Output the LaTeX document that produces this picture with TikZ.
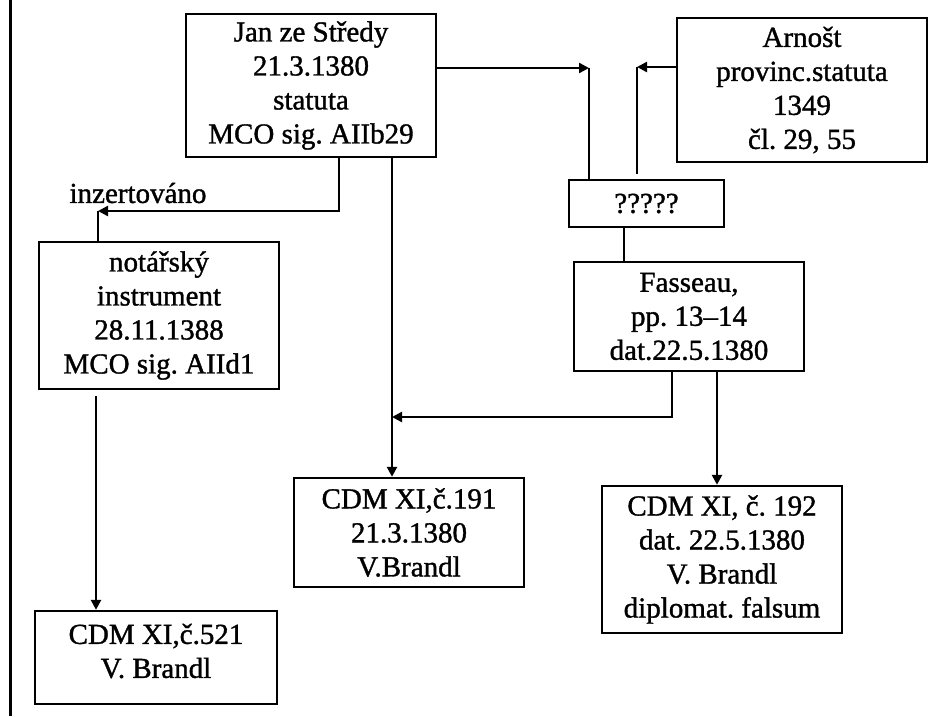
\documentclass[tikz,border=0pt]{standalone}
\usepackage{fontspec}
\setmainfont{Liberation Serif}
\newfontfamily\heavyserif[FakeBold=1.2]{Liberation Serif}
\usetikzlibrary{arrows.meta}
\frenchspacing
\tikzset{
  box/.style={draw, line width=2.4pt, rectangle, inner sep=0pt, align=center,
    font=\fontsize{29}{34}\heavyserif},
  arr/.style={line width=2.4pt, -{Triangle[length=10pt,width=10pt]}},
  conn/.style={line width=2.4pt},
  lbl/.style={inner sep=0pt, font=\fontsize{29}{34}\heavyserif}
}
\begin{document}
\begin{tikzpicture}[x=1pt,y=-1pt]
\useasboundingbox (0,0) rectangle (949,716);
\draw[line width=3pt] (10,0) -- (10,716);

\node[box, minimum width=250pt, minimum height=143pt] (jan) at (311,85.5)
  {Jan ze Středy\\21.3.1380\\statuta\\MCO sig. AIIb29};
\node[box, minimum width=250pt, minimum height=144pt] (arn) at (802,90)
  {Arnošt\\provinc.statuta\\1349\\čl. 29, 55};
\node[box, minimum width=155pt, minimum height=47pt] (q) at (646.5,203.5) {?????};
\node[box, minimum width=230pt, minimum height=109pt] (fas) at (689,316.5)
  {Fasseau,\\pp. 13–14\\dat.22.5.1380};
\node[box, minimum width=240pt, minimum height=147pt] (nota) at (159,315.5)
  {notářský\\instrument\\28.11.1388\\MCO sig. AIId1};
\node[box, minimum width=230pt, minimum height=109pt] (c191) at (409,532.5)
  {CDM XI,č.191\\21.3.1380\\V.Brandl};
\node[box, minimum width=240pt, minimum height=147pt] (c192) at (722,559.5)
  {CDM XI, č. 192\\dat. 22.5.1380\\V. Brandl\\diplomat. falsum};
\node[box, minimum width=242pt, minimum height=93pt] (c521) at (156,657.5) {};
\node[lbl, align=center] (c521t) at (156,651) {CDM XI,č.521\\V. Brandl};

\node[lbl] (ins) at (138,193) {inzertováno};

\coordinate (c1) at (589,68);
\coordinate (c2) at (637,67);
\coordinate (c3) at (98,211);
\coordinate (c4) at (392,417);

\draw[arr] (jan.east |- c1) -- (c1);
\draw[conn] (c1) -- (c1 |- q.north);
\draw[arr] (arn.west |- c2) -- (c2);
\draw[conn, shorten >=5pt] (c2) -- (c2 |- q.north);
\draw[conn] ([xshift=-22.5pt]q.south) -- ([xshift=-65pt]fas.north);
\draw[arr] ([xshift=28pt]jan.south) |- (c3);
\draw[conn] (c3) -- (c3 |- nota.north);
\draw[arr] ([xshift=81pt]jan.south) -- ([xshift=81pt]jan.south |- c191.north);
\draw[arr] ([xshift=-17pt]fas.south) |- (c4);
\draw[arr] ([xshift=28pt]fas.south) -- ([xshift=28pt]fas.south |- c192.north);
\draw[arr] ([xshift=-63pt,yshift=-6pt]nota.south) -- ([xshift=-63pt]nota.south |- c521.north);
\end{tikzpicture}
\end{document}
